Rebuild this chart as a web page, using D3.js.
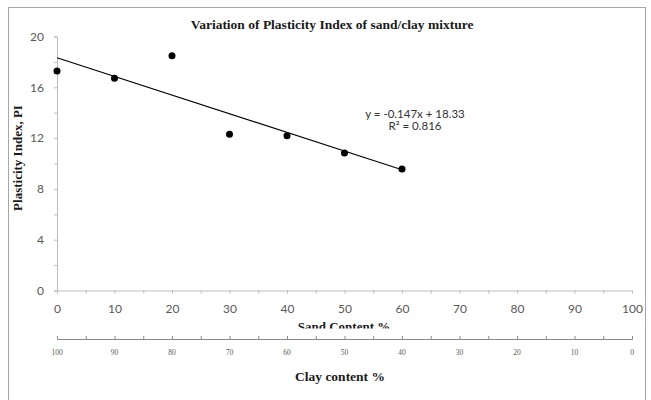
<!DOCTYPE html>
<html>
<head>
<meta charset="utf-8">
<script src="https://cdn.jsdelivr.net/npm/d3@7"></script>
<style>
  html, body { margin: 0; padding: 0; background: #fff; }
  svg { display: block; }
</style>
</head>
<body>
<svg id="chart" width="651" height="400"></svg>
<script>
// ---- data ----
const sandContent = [0, 10, 20, 30, 40, 50, 60];
const plasticityIndex = [17.28, 16.71, 18.49, 12.30, 12.19, 10.83, 9.57];
const trendSlope = [-0.147];
const trendIntercept = [18.33];
const trendRange = [0, 60];
const yTicks = [0, 4, 8, 12, 16, 20];
const xTicks = [0, 10, 20, 30, 40, 50, 60, 70, 80, 90, 100];
const clayTicks = [100, 90, 80, 70, 60, 50, 40, 30, 20, 10, 0];
const titleText = "Variation of Plasticity Index of sand/clay mixture";
const eqLines = ["y = -0.147x + 18.33", "R² = 0.816"];

(function () {
const svg = d3.select("#chart");
const W = 651, H = 400;
const mLeft = 57, mRight = 632, mTop = 36.5, mBottom = 290.5;

const x = d3.scaleLinear().domain([0, 100]).range([mLeft, mRight]);
const y = d3.scaleLinear().domain([0, 20]).range([mBottom, mTop]);
const xClay = d3.scaleLinear().domain([100, 0]).range([mLeft, mRight]);

const axisColor = "#bdbdbd";
const labelColor = "#595959";
const labelFont = "Lato, 'Liberation Sans', sans-serif";
const serif = "'Liberation Serif', 'Times New Roman', serif";

// frame
svg.append("rect").attr("x", 8.5).attr("y", 7.5).attr("width", 637).attr("height", 420)
  .attr("fill", "#fff").attr("stroke", "#a6a6a6").attr("stroke-width", 1);

// title
svg.append("text").attr("x", 332).attr("y", 29).attr("text-anchor", "middle")
  .attr("font-family", serif).attr("font-weight", "bold").attr("font-size", 13.5)
  .attr("fill", "#1a1a1a").text(titleText);

// y axis
const yAxis = d3.axisLeft(y).tickValues(d3.range(0, 21, 2)).tickSize(3)
  .tickFormat(d => yTicks.includes(d) ? d : "");
const gy = svg.append("g").attr("transform", `translate(${mLeft},0)`).call(yAxis);
gy.select(".domain").attr("stroke", axisColor);
gy.selectAll(".tick line").attr("stroke", axisColor);
gy.selectAll(".tick text").attr("font-family", labelFont).attr("font-size", 12)
  .attr("fill", labelColor).attr("x", -13);

// x axis (sand)
const xAxis = d3.axisBottom(x).tickValues(d3.range(0, 101, 5)).tickSize(3)
  .tickFormat(d => xTicks.includes(d) ? d : "");
const gx = svg.append("g").attr("transform", `translate(0,${mBottom})`).call(xAxis);
gx.select(".domain").attr("stroke", axisColor);
gx.selectAll(".tick line").attr("stroke", axisColor);
gx.selectAll(".tick text").attr("font-family", labelFont).attr("font-size", 12)
  .attr("fill", labelColor).attr("y", 14);

// y axis title
svg.append("text").attr("transform", "translate(22,158) rotate(-90)")
  .attr("text-anchor", "middle").attr("font-family", serif).attr("font-weight", "bold")
  .attr("font-size", 13).attr("fill", "#1a1a1a").text("Plasticity Index, PI");

// Sand content title (clipped at bottom as in reference)
svg.append("clipPath").attr("id", "sandClip").append("rect")
  .attr("x", 0).attr("y", 300).attr("width", W).attr("height", 28.5);
svg.append("text").attr("clip-path", "url(#sandClip)")
  .attr("x", 344).attr("y", 331).attr("text-anchor", "middle")
  .attr("font-family", serif).attr("font-weight", "bold").attr("font-size", 13)
  .attr("fill", "#1a1a1a").text("Sand Content %");

// clay axis
const clayAxis = d3.axisTop(xClay).tickValues(d3.range(0, 101, 5)).tickSize(3).tickFormat("");
const gc = svg.append("g").attr("transform", "translate(0,339)").call(clayAxis);
gc.select(".domain").attr("stroke", "#8a8a8a");
gc.selectAll(".tick line").attr("stroke", "#8a8a8a");
svg.append("g").selectAll("text").data(clayTicks).join("text")
  .attr("x", d => xClay(d)).attr("y", 355).attr("text-anchor", "middle")
  .attr("font-family", serif).attr("font-size", 7.5).attr("fill", "#5a5a5a").text(d => d);

svg.append("text").attr("x", 340).attr("y", 381).attr("text-anchor", "middle")
  .attr("font-family", serif).attr("font-weight", "bold").attr("font-size", 13.5)
  .attr("fill", "#1a1a1a").text("Clay content %");

// trend line
const trend = trendRange.map(v => [v, trendSlope[0] * v + trendIntercept[0]]);
svg.append("line")
  .attr("x1", x(trend[0][0])).attr("y1", y(trend[0][1]))
  .attr("x2", x(trend[1][0])).attr("y2", y(trend[1][1]))
  .attr("stroke", "#000").attr("stroke-width", 1.2);

// points
svg.append("g").selectAll("circle").data(sandContent.map((s, i) => [s, plasticityIndex[i]]))
  .join("circle").attr("cx", d => x(d[0])).attr("cy", d => y(d[1])).attr("r", 3.5)
  .attr("fill", "#000");

// equation
svg.append("g").selectAll("text").data(eqLines).join("text")
  .attr("x", 415).attr("y", (d, i) => 118 + i * 12).attr("text-anchor", "middle")
  .attr("font-family", labelFont).attr("font-size", 11.5).attr("fill", "#333")
  .text(d => d);
})();
</script>
</body>
</html>
